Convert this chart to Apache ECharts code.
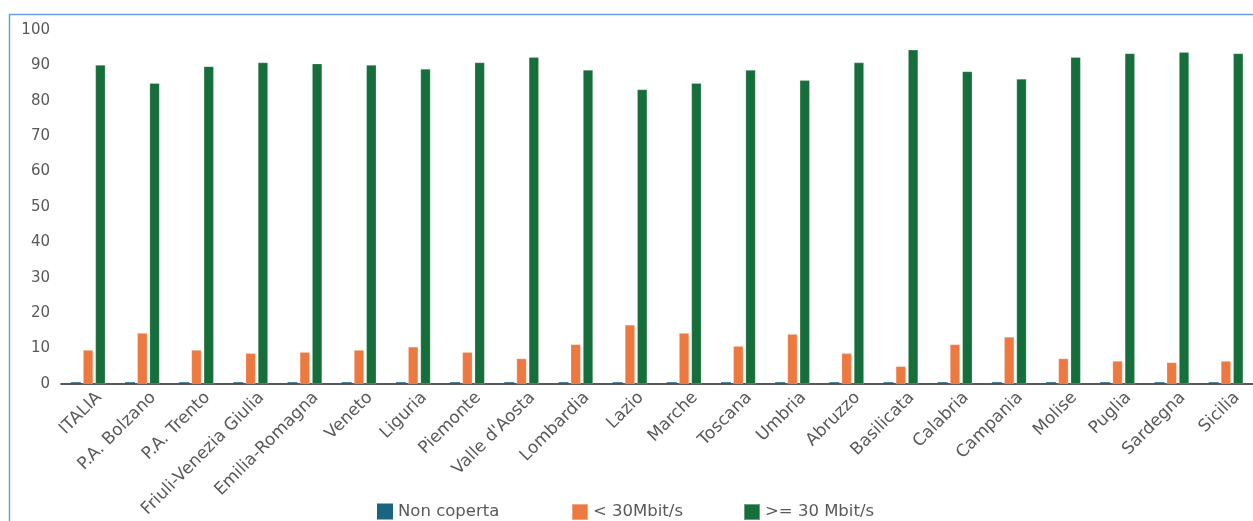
<!DOCTYPE html>
<html>
<head>
<meta charset="utf-8">
<script src="https://cdn.jsdelivr.net/npm/echarts@6/dist/echarts.min.js"></script>
<style>
html,body{margin:0;padding:0;background:#fff;}
#chart{width:1253px;height:521px;}
</style>
</head>
<body>
<div id="chart"></div>
<script>
const categories = ["ITALIA","P.A. Bolzano","P.A. Trento","Friuli-Venezia Giulia","Emilia-Romagna","Veneto","Liguria","Piemonte","Valle d'Aosta","Lombardia","Lazio","Marche","Toscana","Umbria","Abruzzo","Basilicata","Calabria","Campania","Molise","Puglia","Sardegna","Sicilia"];
const seriesNames = ["Non coperta","< 30Mbit/s",">= 30 Mbit/s"];
const nonCoperta = [0.5,0.5,0.5,0.5,0.5,0.5,0.5,0.5,0.5,0.5,0.5,0.5,0.5,0.5,0.5,0.5,0.5,0.5,0.5,0.5,0.5,0.5];
const sotto30 = [9.6,14.4,9.6,8.7,9.0,9.6,10.5,9.0,7.2,11.2,16.7,14.4,10.7,14.1,8.7,5.0,11.2,13.3,7.2,6.5,6.1,6.5];
const sopra30 = [90.1,85.0,89.7,90.8,90.5,90.1,89.0,90.8,92.3,88.7,83.2,85.0,88.7,85.8,90.8,94.4,88.3,86.2,92.3,93.4,93.7,93.4];
const yTicks = {min:0,max:100,interval:10};

const colors = ['#1b6384','#ee7940','#166f3a'];
const chart = echarts.init(document.getElementById('chart'));
const legendLeft = [377,571,743];
const dataArrays = [nonCoperta, sotto30, sopra30];
chart.setOption({
  animation:false,
  color:colors,
  textStyle:{fontFamily:'DejaVu Sans'},
  graphic:[{type:'rect',shape:{x:9.5,y:14.5,width:1400,height:700},style:{fill:'none',stroke:'#6d9fd8',lineWidth:1.5},silent:true}],
  grid:{left:61,right:-5,top:30,bottom:137,containLabel:false},
  legend: seriesNames.map((n,i)=>({data:[n],left:legendLeft[i],top:503,padding:0,itemWidth:16,itemHeight:16,itemGap:0,icon:'rect',textStyle:{fontSize:16.5,color:'#595959',fontFamily:'DejaVu Sans'}})),
  xAxis:{type:'category',data:categories,
    axisLine:{lineStyle:{color:'#222',width:1.6}},axisTick:{show:false},
    axisLabel:{rotate:45,interval:0,fontSize:17,color:'#595959',margin:0,verticalAlign:'top',padding:[7,0,0,0],fontFamily:'DejaVu Sans'}},
  yAxis:{type:'value',min:yTicks.min,max:yTicks.max,interval:yTicks.interval,
    splitLine:{show:false},axisLine:{show:false},axisTick:{show:false},
    axisLabel:{fontSize:15,color:'#595959',margin:11,fontFamily:'DejaVu Sans'}},
  series: seriesNames.map((n,i)=>({name:n,type:'bar',data:dataArrays[i],barWidth:10,barGap:'23%',
    itemStyle: i===0 ? {color:colors[i]} : {color:colors[i],borderColor:'rgba(255,255,255,0.35)',borderWidth:0.6}}))
});
</script>
</body>
</html>
